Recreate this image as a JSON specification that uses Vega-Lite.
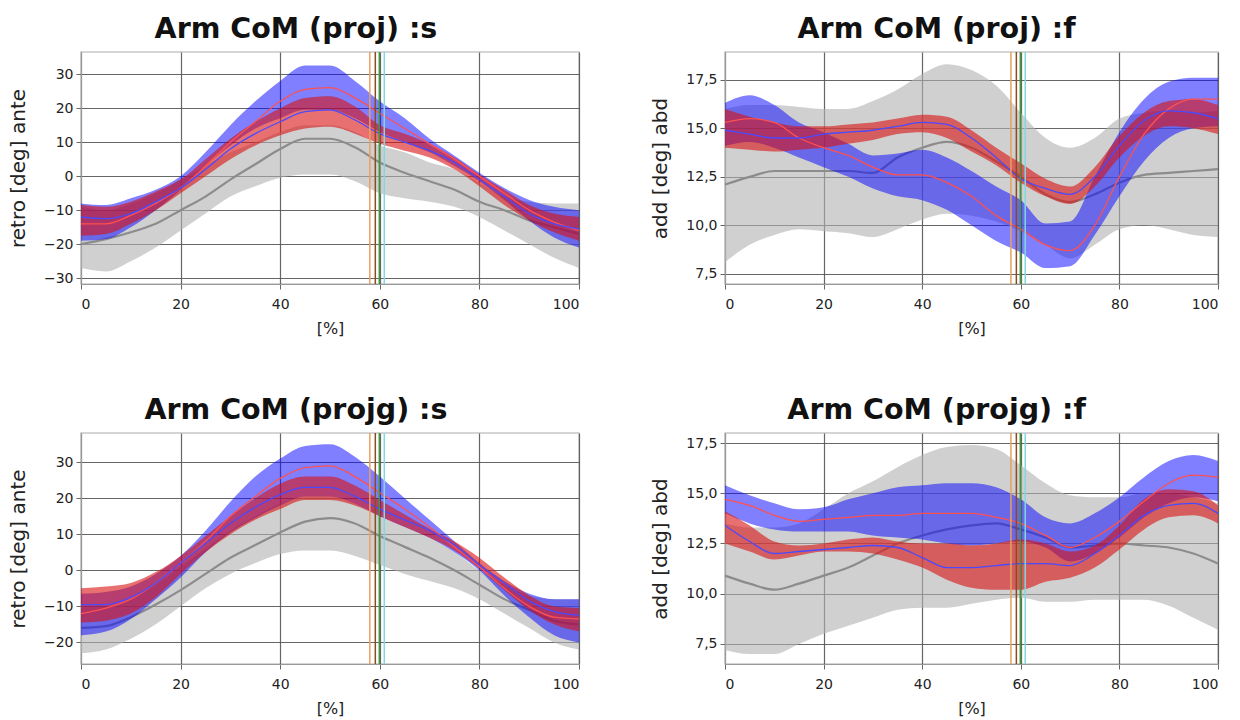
{
"$schema":"https://vega.github.io/schema/vega-lite/v6.json",
"padding":{"left":7,"top":14,"right":5,"bottom":5},
"background":"white",
"config":{
 "locale":{"number":{"decimal":",","thousands":".","grouping":[3],"currency":["","€"]}},
 "view":{"stroke":"#c8c8c8","strokeWidth":1.5},
 "font":"DejaVu Sans",
 "title":{"font":"DejaVu Sans","fontSize":28.5,"fontWeight":"bold","color":"#111","offset":8,"anchor":"middle","frame":"bounds"},
 "axis":{"labelFont":"DejaVu Sans","labelFontSize":14,"labelColor":"#222","labelOverlap":false,"tickCount":12,"titleFont":"DejaVu Sans","titleFontWeight":"normal","titleColor":"#222","gridColor":"#555","gridWidth":1.2,"gridOpacity":0.9,"domainColor":"#999","tickColor":"#666","tickSize":5},
 "axisX":{"titleFontSize":16,"titlePadding":9,"labelPadding":8},
 "axisY":{"titleFontSize":20,"titlePadding":15,"labelPadding":3}
},
"datasets":{
 "ev":[{"x":58.0,"e":"a"},{"x":59.1,"e":"b"},{"x":59.9,"e":"c"},{"x":60.9,"e":"d"}],
 "d":[
{"p":"A","x":0,"gl":-27,"gh":-9,"gm":-20,"bl":-19,"bh":-8,"bm":-14,"rl":-17.5,"rh":-8.5,"rm":-12},
{"p":"A","x":5,"gl":-28,"gh":-10,"gm":-18.5,"bl":-18.5,"bh":-8.5,"bm":-14,"rl":-17,"rh":-9,"rm":-12.5},
{"p":"A","x":10,"gl":-25,"gh":-8,"gm":-16.5,"bl":-15,"bh":-6.5,"bm":-11.5,"rl":-14,"rh":-7.5,"rm":-11},
{"p":"A","x":15,"gl":-21,"gh":-5,"gm":-14,"bl":-10,"bh":-4,"bm":-8,"rl":-10,"rh":-4.5,"rm":-7.5},
{"p":"A","x":20,"gl":-16,"gh":-1,"gm":-10,"bl":-4,"bh":0,"bm":-3.5,"rl":-5,"rh":-1,"rm":-3.5},
{"p":"A","x":25,"gl":-11,"gh":3,"gm":-6,"bl":3,"bh":7,"bm":3,"rl":0,"rh":5,"rm":2},
{"p":"A","x":30,"gl":-6,"gh":7,"gm":-1,"bl":9,"bh":15,"bm":10,"rl":5,"rh":11,"rm":8},
{"p":"A","x":35,"gl":-3,"gh":10,"gm":3.5,"bl":14,"bh":22,"bm":16,"rl":9,"rh":16,"rm":12.5},
{"p":"A","x":40,"gl":-0.5,"gh":13,"gm":8,"bl":17,"bh":28,"bm":22,"rl":12,"rh":20,"rm":16},
{"p":"A","x":45,"gl":0.5,"gh":15,"gm":11,"bl":19.5,"bh":32.5,"bm":25.5,"rl":14,"rh":23,"rm":19},
{"p":"A","x":50,"gl":0.5,"gh":15,"gm":11,"bl":19.5,"bh":32.5,"bm":26,"rl":14.5,"rh":23.5,"rm":19.5},
{"p":"A","x":55,"gl":-1.5,"gh":13,"gm":8.5,"bl":17,"bh":28,"bm":23,"rl":12.5,"rh":20.5,"rm":16.5},
{"p":"A","x":60,"gl":-5,"gh":9,"gm":4,"bl":13,"bh":22,"bm":18.5,"rl":9.5,"rh":15,"rm":12.5},
{"p":"A","x":65,"gl":-6.5,"gh":7,"gm":1,"bl":10,"bh":17,"bm":14,"rl":7.5,"rh":12.5,"rm":10},
{"p":"A","x":70,"gl":-7.5,"gh":4,"gm":-1.5,"bl":7,"bh":11,"bm":9.5,"rl":5.5,"rh":9.5,"rm":7.5},
{"p":"A","x":75,"gl":-9,"gh":2,"gm":-4,"bl":3,"bh":6,"bm":5,"rl":2,"rh":5.5,"rm":4},
{"p":"A","x":80,"gl":-12,"gh":-2,"gm":-7.5,"bl":-1.5,"bh":1,"bm":0,"rl":-3,"rh":0.5,"rm":-1},
{"p":"A","x":85,"gl":-16,"gh":-6,"gm":-10,"bl":-7,"bh":-3.5,"bm":-5,"rl":-8.5,"rh":-4,"rm":-6},
{"p":"A","x":90,"gl":-20,"gh":-7.5,"gm":-13,"bl":-13,"bh":-7,"bm":-10,"rl":-13,"rh":-8.5,"rm":-11},
{"p":"A","x":95,"gl":-24,"gh":-8,"gm":-15,"bl":-18,"bh":-9,"bm":-13.5,"rl":-16.5,"rh":-11,"rm":-14},
{"p":"A","x":100,"gl":-27,"gh":-8,"gm":-17,"bl":-21,"bh":-10,"bm":-16,"rl":-19,"rh":-12,"rm":-15.5},
{"p":"B","x":0,"gl":8.1,"gh":16.0,"gm":12.1,"bl":14.1,"bh":16.3,"bm":15.3,"rl":14.0,"rh":16.0,"rm":14.9},
{"p":"B","x":5,"gl":9.0,"gh":16.2,"gm":12.5,"bl":14.3,"bh":16.7,"bm":15.5,"rl":13.9,"rh":15.6,"rm":14.7},
{"p":"B","x":10,"gl":9.5,"gh":16.2,"gm":12.8,"bl":14.0,"bh":16.2,"bm":15.3,"rl":13.8,"rh":15.3,"rm":14.5},
{"p":"B","x":15,"gl":9.8,"gh":16.1,"gm":12.8,"bl":13.5,"bh":15.3,"bm":14.5,"rl":13.9,"rh":15.1,"rm":14.5},
{"p":"B","x":20,"gl":9.7,"gh":16.0,"gm":12.8,"bl":13.0,"bh":14.8,"bm":14.0,"rl":14.0,"rh":15.1,"rm":14.7},
{"p":"B","x":25,"gl":9.6,"gh":16.0,"gm":12.8,"bl":12.5,"bh":14.2,"bm":13.6,"rl":14.2,"rh":15.2,"rm":14.8},
{"p":"B","x":30,"gl":9.4,"gh":16.4,"gm":12.7,"bl":11.9,"bh":13.6,"bm":13.0,"rl":14.4,"rh":15.3,"rm":14.9},
{"p":"B","x":35,"gl":9.8,"gh":17.0,"gm":13.5,"bl":11.5,"bh":13.7,"bm":12.6,"rl":14.7,"rh":15.5,"rm":15.1},
{"p":"B","x":40,"gl":10.3,"gh":17.8,"gm":14.0,"bl":11.3,"bh":13.9,"bm":12.6,"rl":14.8,"rh":15.7,"rm":15.3},
{"p":"B","x":45,"gl":10.6,"gh":18.3,"gm":14.3,"bl":10.8,"bh":13.5,"bm":12.2,"rl":14.5,"rh":15.6,"rm":15.2},
{"p":"B","x":50,"gl":10.5,"gh":18.0,"gm":14.0,"bl":10.0,"bh":12.8,"bm":11.5,"rl":13.8,"rh":14.9,"rm":14.5},
{"p":"B","x":55,"gl":10.2,"gh":17.2,"gm":13.3,"bl":9.2,"bh":12.0,"bm":10.5,"rl":13.1,"rh":14.0,"rm":13.5},
{"p":"B","x":60,"gl":9.7,"gh":15.8,"gm":12.5,"bl":8.6,"bh":11.3,"bm":9.8,"rl":12.2,"rh":13.2,"rm":12.4},
{"p":"B","x":65,"gl":9.0,"gh":14.5,"gm":11.6,"bl":7.8,"bh":10.1,"bm":9.0,"rl":11.5,"rh":12.4,"rm":11.9},
{"p":"B","x":70,"gl":8.3,"gh":14.0,"gm":11.2,"bl":7.9,"bh":10.2,"bm":8.7,"rl":11.1,"rh":12.0,"rm":11.6},
{"p":"B","x":75,"gl":9.0,"gh":14.5,"gm":11.6,"bl":9.5,"bh":12.5,"bm":10.0,"rl":12.0,"rh":13.0,"rm":12.5},
{"p":"B","x":80,"gl":9.8,"gh":15.5,"gm":12.2,"bl":11.5,"bh":14.8,"bm":12.5,"rl":13.5,"rh":14.6,"rm":14.1},
{"p":"B","x":85,"gl":10.0,"gh":15.8,"gm":12.6,"bl":13.3,"bh":16.5,"bm":14.7,"rl":14.6,"rh":15.8,"rm":15.4},
{"p":"B","x":90,"gl":9.8,"gh":15.9,"gm":12.7,"bl":14.5,"bh":17.4,"bm":16.0,"rl":15.1,"rh":16.4,"rm":15.9},
{"p":"B","x":95,"gl":9.5,"gh":15.8,"gm":12.8,"bl":15.0,"bh":17.6,"bm":16.5,"rl":15.0,"rh":16.5,"rm":15.8},
{"p":"B","x":100,"gl":9.4,"gh":15.9,"gm":12.9,"bl":15.1,"bh":17.6,"bm":16.5,"rl":14.7,"rh":16.2,"rm":15.5},
{"p":"C","x":0,"gl":-23,"gh":-10,"gm":-16,"bl":-18,"bh":-6.5,"bm":-12,"rl":-14.5,"rh":-5,"rm":-9.5},
{"p":"C","x":5,"gl":-22,"gh":-10,"gm":-15.5,"bl":-17,"bh":-6,"bm":-10.5,"rl":-14,"rh":-4.5,"rm":-9.5},
{"p":"C","x":10,"gl":-19,"gh":-8,"gm":-13,"bl":-13.5,"bh":-4.5,"bm":-8,"rl":-12,"rh":-3.5,"rm":-7.5},
{"p":"C","x":15,"gl":-15,"gh":-4,"gm":-9.5,"bl":-8,"bh":-1,"bm":-3.5,"rl":-7.5,"rh":-0.5,"rm":-3.5},
{"p":"C","x":20,"gl":-10,"gh":1,"gm":-5.5,"bl":-2,"bh":4,"bm":2,"rl":-1,"rh":4,"rm":2},
{"p":"C","x":25,"gl":-5,"gh":6,"gm":-1,"bl":5,"bh":11,"bm":8,"rl":5,"rh":9.5,"rm":7.5},
{"p":"C","x":30,"gl":-1,"gh":11,"gm":3.5,"bl":10.5,"bh":19,"bm":15,"rl":10,"rh":15,"rm":13},
{"p":"C","x":35,"gl":2,"gh":15,"gm":7,"bl":14.5,"bh":26,"bm":20.5,"rl":14,"rh":20,"rm":17.5},
{"p":"C","x":40,"gl":4.5,"gh":18.5,"gm":10.5,"bl":18,"bh":31,"bm":25.5,"rl":17,"rh":24,"rm":21},
{"p":"C","x":45,"gl":5.5,"gh":20.5,"gm":13.5,"bl":20.5,"bh":34.5,"bm":28.5,"rl":19.5,"rh":26,"rm":23},
{"p":"C","x":50,"gl":5.5,"gh":20.5,"gm":14.5,"bl":20.5,"bh":35,"bm":29,"rl":19.5,"rh":26,"rm":23},
{"p":"C","x":55,"gl":4,"gh":18.5,"gm":13,"bl":18.5,"bh":31.5,"bm":26,"rl":18,"rh":23.5,"rm":20.5},
{"p":"C","x":60,"gl":1.5,"gh":15,"gm":9.5,"bl":15,"bh":26,"bm":21.5,"rl":15,"rh":19.5,"rm":17},
{"p":"C","x":65,"gl":-1,"gh":12,"gm":6.5,"bl":12,"bh":20,"bm":17,"rl":12,"rh":15.5,"rm":14},
{"p":"C","x":70,"gl":-3,"gh":9,"gm":3.5,"bl":9,"bh":14,"bm":12,"rl":9,"rh":11.5,"rm":11},
{"p":"C","x":75,"gl":-5,"gh":5,"gm":0,"bl":5,"bh":8,"bm":6.5,"rl":5.5,"rh":8,"rm":7},
{"p":"C","x":80,"gl":-8,"gh":0,"gm":-4,"bl":0,"bh":2,"bm":1,"rl":0.5,"rh":3.5,"rm":1.5},
{"p":"C","x":85,"gl":-12,"gh":-4,"gm":-8,"bl":-7,"bh":-3,"bm":-5,"rl":-5.5,"rh":-2,"rm":-3.5},
{"p":"C","x":90,"gl":-16,"gh":-7,"gm":-11,"bl":-13,"bh":-6.5,"bm":-10,"rl":-11,"rh":-7,"rm":-8.5},
{"p":"C","x":95,"gl":-20,"gh":-8,"gm":-14,"bl":-18,"bh":-8,"bm":-13,"rl":-15,"rh":-10,"rm":-11.5},
{"p":"C","x":100,"gl":-22,"gh":-8,"gm":-15,"bl":-20,"bh":-8,"bm":-13.5,"rl":-17,"rh":-10.5,"rm":-12.5},
{"p":"D","x":0,"gl":7.2,"gh":13.5,"gm":10.9,"bl":14.0,"bh":15.4,"bm":14.7,"rl":12.5,"rh":14.1,"rm":13.4},
{"p":"D","x":5,"gl":7.0,"gh":13.3,"gm":10.5,"bl":13.5,"bh":14.9,"bm":14.4,"rl":12.1,"rh":13.4,"rm":12.6},
{"p":"D","x":10,"gl":7.0,"gh":13.3,"gm":10.2,"bl":13.2,"bh":14.5,"bm":13.9,"rl":11.7,"rh":12.6,"rm":12.0},
{"p":"D","x":15,"gl":7.5,"gh":13.5,"gm":10.5,"bl":13.1,"bh":14.2,"bm":13.6,"rl":11.9,"rh":12.4,"rm":12.1},
{"p":"D","x":20,"gl":8.0,"gh":14.2,"gm":10.9,"bl":13.1,"bh":14.3,"bm":13.7,"rl":12.1,"rh":12.5,"rm":12.2},
{"p":"D","x":25,"gl":8.4,"gh":15.0,"gm":11.3,"bl":13.1,"bh":14.7,"bm":13.8,"rl":12.1,"rh":12.7,"rm":12.3},
{"p":"D","x":30,"gl":8.8,"gh":15.6,"gm":11.9,"bl":12.9,"bh":15.0,"bm":13.9,"rl":12.0,"rh":12.8,"rm":12.4},
{"p":"D","x":35,"gl":9.2,"gh":16.3,"gm":12.5,"bl":12.8,"bh":15.3,"bm":13.9,"rl":11.7,"rh":12.6,"rm":12.3},
{"p":"D","x":40,"gl":9.3,"gh":16.9,"gm":12.9,"bl":12.7,"bh":15.4,"bm":14.0,"rl":11.3,"rh":12.5,"rm":11.8},
{"p":"D","x":45,"gl":9.3,"gh":17.3,"gm":13.2,"bl":12.5,"bh":15.5,"bm":14.0,"rl":10.7,"rh":12.5,"rm":11.3},
{"p":"D","x":50,"gl":9.5,"gh":17.4,"gm":13.4,"bl":12.4,"bh":15.5,"bm":14.0,"rl":10.3,"rh":12.4,"rm":11.3},
{"p":"D","x":55,"gl":9.7,"gh":17.2,"gm":13.5,"bl":12.5,"bh":15.3,"bm":13.8,"rl":10.2,"rh":12.5,"rm":11.4},
{"p":"D","x":60,"gl":9.8,"gh":16.4,"gm":13.2,"bl":12.6,"bh":14.7,"bm":13.5,"rl":10.2,"rh":12.7,"rm":11.5},
{"p":"D","x":65,"gl":9.6,"gh":15.5,"gm":12.8,"bl":12.3,"bh":13.8,"bm":12.9,"rl":10.6,"rh":12.5,"rm":11.5},
{"p":"D","x":70,"gl":9.6,"gh":14.9,"gm":12.3,"bl":11.6,"bh":13.5,"bm":12.3,"rl":10.8,"rh":12.1,"rm":11.4},
{"p":"D","x":75,"gl":9.7,"gh":14.8,"gm":12.4,"bl":12.0,"bh":14.0,"bm":12.8,"rl":11.3,"rh":12.4,"rm":12.0},
{"p":"D","x":80,"gl":9.7,"gh":14.8,"gm":12.5,"bl":12.8,"bh":14.8,"bm":13.6,"rl":12.2,"rh":13.4,"rm":12.9},
{"p":"D","x":85,"gl":9.7,"gh":15.0,"gm":12.4,"bl":13.8,"bh":15.8,"bm":14.6,"rl":13.2,"rh":14.7,"rm":13.9},
{"p":"D","x":90,"gl":9.4,"gh":15.0,"gm":12.3,"bl":14.5,"bh":16.6,"bm":15.5,"rl":13.8,"rh":15.2,"rm":14.4},
{"p":"D","x":95,"gl":8.8,"gh":14.8,"gm":12.0,"bl":14.8,"bh":16.9,"bm":15.9,"rl":13.9,"rh":15.1,"rm":14.5},
{"p":"D","x":100,"gl":8.2,"gh":14.5,"gm":11.5,"bl":14.6,"bh":16.6,"bm":15.8,"rl":13.5,"rh":14.4,"rm":14.0}
 ]
},
"bounds":"flush",
"columns":2,
"spacing":{"row":149,"column":146},
"concat":[
  {"width":498,"height":232,"title":"Arm CoM (proj) :s",
   "data":{"name":"d"},"transform":[{"filter":"datum.p=='A'"}],
   "encoding":{"x":{"field":"x","type":"quantitative","scale":{"domain":[0,100],"nice":false},"axis":{"values":[0,20,40,60,80,100],"title":"[%]"}}},
   "layer":[
    {"mark":{"type":"area","color":"#b0b0b0","opacity":0.6,"interpolate":"monotone"},"encoding":{"y":{"field":"gl","type":"quantitative","scale":{"domain":[-31.7,36.5],"nice":false,"zero":false},"axis":{"values":[-30,-20,-10,0,10,20,30],"tickCount":12,"format":"d","title":"retro [deg] ante"}},"y2":{"field":"gh"}}},
    {"mark":{"type":"line","color":"#8c8c8c","strokeWidth":2.2,"interpolate":"monotone"},"encoding":{"y":{"field":"gm","type":"quantitative"}}},
    {"mark":{"type":"area","color":"#0000ff","opacity":0.5,"interpolate":"monotone"},"encoding":{"y":{"field":"bl","type":"quantitative"},"y2":{"field":"bh"}}},
    {"mark":{"type":"area","color":"#d81010","opacity":0.6,"interpolate":"monotone"},"encoding":{"y":{"field":"rl","type":"quantitative"},"y2":{"field":"rh"}}},
    {"mark":{"type":"line","color":"#ff5050","strokeWidth":1.3,"interpolate":"monotone"},"encoding":{"y":{"field":"bm","type":"quantitative"}}},
    {"mark":{"type":"line","color":"#4a4aff","strokeWidth":1.3,"interpolate":"monotone"},"encoding":{"y":{"field":"rm","type":"quantitative"}}},
    {"data":{"name":"ev"},"mark":{"type":"rule","strokeWidth":1.5},"encoding":{"x":{"field":"x","type":"quantitative"},"color":{"field":"e","type":"nominal","scale":{"domain":["a","b","c","d"],"range":["#e8a060","#8b4a20","#3a9a3a","#80d8e0"]},"legend":null}}}
   ]},
  {"width":493,"height":232,"title":"Arm CoM (proj) :f",
   "data":{"name":"d"},"transform":[{"filter":"datum.p=='B'"}],
   "encoding":{"x":{"field":"x","type":"quantitative","scale":{"domain":[0,100],"nice":false},"axis":{"values":[0,20,40,60,80,100],"title":"[%]"}}},
   "layer":[
    {"mark":{"type":"area","color":"#b0b0b0","opacity":0.6,"interpolate":"monotone"},"encoding":{"y":{"field":"gl","type":"quantitative","scale":{"domain":[6.98,18.93],"nice":false,"zero":false},"axis":{"values":[7.5,10,12.5,15,17.5],"tickCount":12,"format":".1f","title":"add [deg] abd"}},"y2":{"field":"gh"}}},
    {"mark":{"type":"line","color":"#8c8c8c","strokeWidth":2.2,"interpolate":"monotone"},"encoding":{"y":{"field":"gm","type":"quantitative"}}},
    {"mark":{"type":"area","color":"#0000ff","opacity":0.5,"interpolate":"monotone"},"encoding":{"y":{"field":"bl","type":"quantitative"},"y2":{"field":"bh"}}},
    {"mark":{"type":"area","color":"#d81010","opacity":0.6,"interpolate":"monotone"},"encoding":{"y":{"field":"rl","type":"quantitative"},"y2":{"field":"rh"}}},
    {"mark":{"type":"line","color":"#ff5050","strokeWidth":1.3,"interpolate":"monotone"},"encoding":{"y":{"field":"bm","type":"quantitative"}}},
    {"mark":{"type":"line","color":"#4a4aff","strokeWidth":1.3,"interpolate":"monotone"},"encoding":{"y":{"field":"rm","type":"quantitative"}}},
    {"data":{"name":"ev"},"mark":{"type":"rule","strokeWidth":1.5},"encoding":{"x":{"field":"x","type":"quantitative"},"color":{"field":"e","type":"nominal","scale":{"domain":["a","b","c","d"],"range":["#e8a060","#8b4a20","#3a9a3a","#80d8e0"]},"legend":null}}}
   ]},
  {"width":498,"height":231,"title":"Arm CoM (projg) :s",
   "data":{"name":"d"},"transform":[{"filter":"datum.p=='C'"}],
   "encoding":{"x":{"field":"x","type":"quantitative","scale":{"domain":[0,100],"nice":false},"axis":{"values":[0,20,40,60,80,100],"title":"[%]"}}},
   "layer":[
    {"mark":{"type":"area","color":"#b0b0b0","opacity":0.6,"interpolate":"monotone"},"encoding":{"y":{"field":"gl","type":"quantitative","scale":{"domain":[-26,38.1],"nice":false,"zero":false},"axis":{"values":[-20,-10,0,10,20,30],"tickCount":12,"format":"d","title":"retro [deg] ante"}},"y2":{"field":"gh"}}},
    {"mark":{"type":"line","color":"#8c8c8c","strokeWidth":2.2,"interpolate":"monotone"},"encoding":{"y":{"field":"gm","type":"quantitative"}}},
    {"mark":{"type":"area","color":"#0000ff","opacity":0.5,"interpolate":"monotone"},"encoding":{"y":{"field":"bl","type":"quantitative"},"y2":{"field":"bh"}}},
    {"mark":{"type":"area","color":"#d81010","opacity":0.6,"interpolate":"monotone"},"encoding":{"y":{"field":"rl","type":"quantitative"},"y2":{"field":"rh"}}},
    {"mark":{"type":"line","color":"#ff5050","strokeWidth":1.3,"interpolate":"monotone"},"encoding":{"y":{"field":"bm","type":"quantitative"}}},
    {"mark":{"type":"line","color":"#4a4aff","strokeWidth":1.3,"interpolate":"monotone"},"encoding":{"y":{"field":"rm","type":"quantitative"}}},
    {"data":{"name":"ev"},"mark":{"type":"rule","strokeWidth":1.5},"encoding":{"x":{"field":"x","type":"quantitative"},"color":{"field":"e","type":"nominal","scale":{"domain":["a","b","c","d"],"range":["#e8a060","#8b4a20","#3a9a3a","#80d8e0"]},"legend":null}}}
   ]},
  {"width":493,"height":231,"title":"Arm CoM (projg) :f",
   "data":{"name":"d"},"transform":[{"filter":"datum.p=='D'"}],
   "encoding":{"x":{"field":"x","type":"quantitative","scale":{"domain":[0,100],"nice":false},"axis":{"values":[0,20,40,60,80,100],"title":"[%]"}}},
   "layer":[
    {"mark":{"type":"area","color":"#b0b0b0","opacity":0.6,"interpolate":"monotone"},"encoding":{"y":{"field":"gl","type":"quantitative","scale":{"domain":[6.5,18.0],"nice":false,"zero":false},"axis":{"values":[7.5,10,12.5,15,17.5],"tickCount":12,"format":".1f","title":"add [deg] abd"}},"y2":{"field":"gh"}}},
    {"mark":{"type":"line","color":"#8c8c8c","strokeWidth":2.2,"interpolate":"monotone"},"encoding":{"y":{"field":"gm","type":"quantitative"}}},
    {"mark":{"type":"area","color":"#0000ff","opacity":0.5,"interpolate":"monotone"},"encoding":{"y":{"field":"bl","type":"quantitative"},"y2":{"field":"bh"}}},
    {"mark":{"type":"area","color":"#d81010","opacity":0.6,"interpolate":"monotone"},"encoding":{"y":{"field":"rl","type":"quantitative"},"y2":{"field":"rh"}}},
    {"mark":{"type":"line","color":"#ff5050","strokeWidth":1.3,"interpolate":"monotone"},"encoding":{"y":{"field":"bm","type":"quantitative"}}},
    {"mark":{"type":"line","color":"#4a4aff","strokeWidth":1.3,"interpolate":"monotone"},"encoding":{"y":{"field":"rm","type":"quantitative"}}},
    {"data":{"name":"ev"},"mark":{"type":"rule","strokeWidth":1.5},"encoding":{"x":{"field":"x","type":"quantitative"},"color":{"field":"e","type":"nominal","scale":{"domain":["a","b","c","d"],"range":["#e8a060","#8b4a20","#3a9a3a","#80d8e0"]},"legend":null}}}
   ]}
]
}
